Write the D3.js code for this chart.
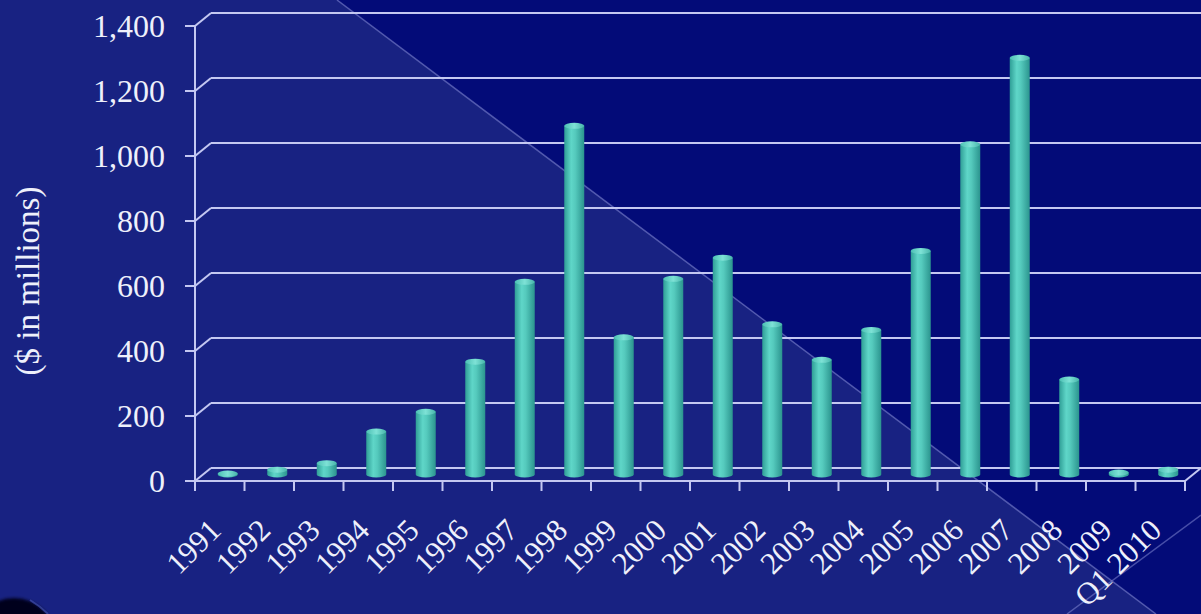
<!DOCTYPE html>
<html>
<head>
<meta charset="utf-8">
<script src="https://cdn.jsdelivr.net/npm/d3@7"></script>
<style>
  html, body { margin: 0; padding: 0; background: #18217f; overflow: hidden; }
  svg { display: block; }
</style>
</head>
<body>
<svg id="chart" width="1201" height="614"></svg>
<script>
// Annual totals, $ in millions
const years = ["1991","1992","1993","1994","1995","1996","1997","1998","1999","2000",
               "2001","2002","2003","2004","2005","2006","2007","2008","2009","Q1 2010"];
const values = [3, 15, 35, 132, 193, 347, 593, 1073, 422, 602,
                667, 462, 353, 445, 688, 1016, 1282, 292, 6, 15];
const yTicks = [0, 200, 400, 600, 800, 1000, 1200, 1400];
const yTitle = "($ in millions)";

const W = 1201, H = 614;
const svg = d3.select("#chart");

// Depth offset of the back wall (pseudo-3D)
const DX = 16, DY = -13;

const x = d3.scaleBand().domain(years).range([195, 1185]).padding(0);
const y = d3.scaleLinear().domain([0, 1400]).range([481, 26]);

// ---- background: two-tone split along a diagonal
const defs = svg.append("defs");
svg.append("rect").attr("width", W).attr("height", H).attr("fill", "#182282");
svg.append("path")
  .attr("d", `M337,0 L${W},0 L${W},${H} L1156,${H} Z`)
  .attr("fill", "#030b78");
svg.append("line").attr("x1", 337).attr("y1", 0).attr("x2", 1156).attr("y2", H)
  .attr("stroke", "#8a90d8").attr("stroke-width", 1.5).attr("opacity", 0.55);
svg.append("line").attr("x1", W).attr("y1", 515).attr("x2", 1067).attr("y2", H)
  .attr("stroke", "#8a90d8").attr("stroke-width", 1.5).attr("opacity", 0.5);

// dark emblem at the lower-left corner
const blur = defs.append("filter").attr("id", "soft");
blur.append("feGaussianBlur").attr("stdDeviation", 1.5);
svg.append("circle").attr("cx", 14).attr("cy", 640).attr("r", 42)
  .attr("fill", "#03041a").attr("filter", "url(#soft)");
svg.append("path").attr("d", "M30,600 Q40,606 48,614")
  .attr("stroke", "#4a58b8").attr("stroke-width", 2).attr("fill", "none").attr("opacity", 0.6);

// ---- gridlines on the back wall with connectors to the front axis
const axisColor = "#c4c8f2";
const grid = svg.append("g");
yTicks.forEach(t => {
  const yy = y(t);
  grid.append("line").attr("x1", 195 + DX).attr("y1", yy + DY).attr("x2", W).attr("y2", yy + DY)
    .attr("stroke", axisColor).attr("stroke-width", 2);
  grid.append("line").attr("x1", 195).attr("y1", yy).attr("x2", 195 + DX).attr("y2", yy + DY)
    .attr("stroke", axisColor).attr("stroke-width", 2);
  grid.append("line").attr("x1", 185).attr("y1", yy).attr("x2", 195).attr("y2", yy)
    .attr("stroke", axisColor).attr("stroke-width", 2);
});

// front floor edge and right-hand floor connector
grid.append("line").attr("x1", 195).attr("y1", y(0)).attr("x2", 1185).attr("y2", y(0))
  .attr("stroke", axisColor).attr("stroke-width", 2);
grid.append("line").attr("x1", 1185).attr("y1", y(0)).attr("x2", 1185 + DX).attr("y2", y(0) + DY)
  .attr("stroke", axisColor).attr("stroke-width", 2);
// vertical value axis
grid.append("line").attr("x1", 195).attr("y1", y(1400)).attr("x2", 195).attr("y2", y(0) + 10)
  .attr("stroke", axisColor).attr("stroke-width", 2);
// category ticks on band boundaries
years.forEach(c => {
  const xx = x(c) + x.bandwidth();
  grid.append("line").attr("x1", xx).attr("y1", y(0)).attr("x2", xx).attr("y2", y(0) + 10)
    .attr("stroke", axisColor).attr("stroke-width", 2);
});

// ---- cylinder bars
const grad = defs.append("linearGradient").attr("id", "cyl").attr("x1", "0").attr("x2", "1").attr("y1", "0").attr("y2", "0");
grad.append("stop").attr("offset", "0%").attr("stop-color", "#2f9e96");
grad.append("stop").attr("offset", "35%").attr("stop-color", "#5fd6c8");
grad.append("stop").attr("offset", "55%").attr("stop-color", "#55cabd");
grad.append("stop").attr("offset", "100%").attr("stop-color", "#2b948e");

const capGrad = defs.append("linearGradient").attr("id", "cap").attr("x1", "0").attr("x2", "1");
capGrad.append("stop").attr("offset", "0%").attr("stop-color", "#4cc0b4");
capGrad.append("stop").attr("offset", "50%").attr("stop-color", "#7ee2d6");
capGrad.append("stop").attr("offset", "100%").attr("stop-color", "#46b4aa");

const barW = 20, rx = barW / 2, ry = 3;
const bars = svg.append("g").selectAll("g").data(years.map((c, i) => ({ c, v: values[i] })))
  .join("g");
const barCx = d => x(d.c) + x.bandwidth() / 2 + DX / 2;
const barBase = y(0) + DY / 2;
const barTop = d => y(d.v) + DY / 2;

bars.append("ellipse").attr("cx", barCx).attr("cy", barBase).attr("rx", rx).attr("ry", ry)
  .attr("fill", "url(#cyl)");
bars.append("rect")
  .attr("x", d => barCx(d) - rx).attr("y", d => barTop(d))
  .attr("width", barW).attr("height", d => barBase - barTop(d))
  .attr("fill", "url(#cyl)");
bars.append("ellipse").attr("cx", barCx).attr("cy", d => barTop(d)).attr("rx", rx).attr("ry", ry)
  .attr("fill", "url(#cap)");

// ---- text
const font = "'Liberation Serif', 'Times New Roman', serif";
const textColor = "#eef0fb";

svg.append("g").selectAll("text").data(yTicks).join("text")
  .attr("x", 165).attr("y", d => y(d))
  .attr("dy", "0.35em")
  .attr("text-anchor", "end")
  .attr("font-family", font).attr("font-size", 32).attr("fill", textColor)
  .text(d => d3.format(",")(d));

svg.append("text")
  .attr("transform", "translate(39,281) rotate(-90)")
  .attr("text-anchor", "middle")
  .attr("font-family", font).attr("font-size", 33).attr("fill", textColor)
  .text(yTitle);

svg.append("g").selectAll("text").data(years).join("text")
  .attr("transform", d => `translate(${x(d) + x.bandwidth() / 2 + 3},532) rotate(-45)`)
  .attr("text-anchor", "end")
  .attr("font-family", font).attr("font-size", 31).attr("fill", textColor)
  .text(d => d);
</script>
</body>
</html>
